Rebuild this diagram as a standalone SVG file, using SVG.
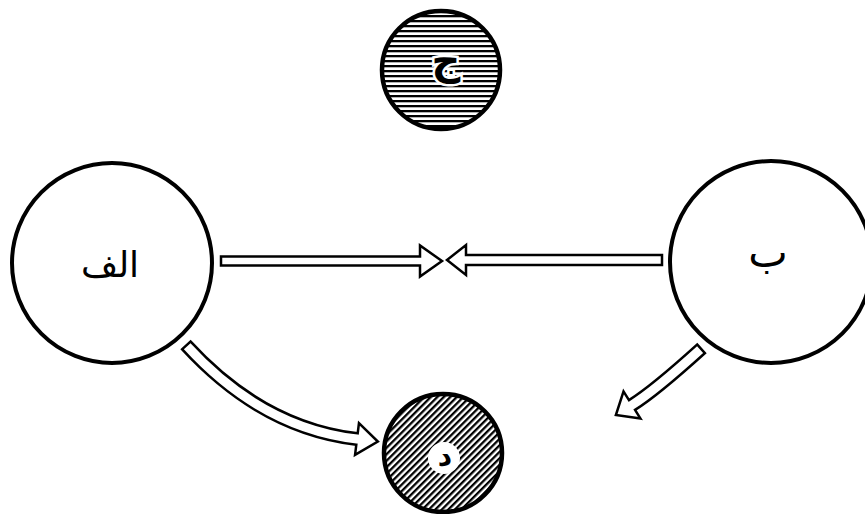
<svg xmlns="http://www.w3.org/2000/svg" width="865" height="514" viewBox="0 0 865 514">
  <style>
    .ring { fill: #fff; stroke: #000; stroke-width: 4; }
    .hring { fill: none; stroke: #000; stroke-width: 4.5; }
    .lbl { font-family: "DejaVu Sans", "Noto Sans", sans-serif; fill: #000; text-anchor: middle; }
    .halo { stroke: #fff; stroke-width: 5; paint-order: stroke; }
    .outl { fill: #fff; stroke: #000; stroke-width: 2.5; stroke-linejoin: miter; }
    .bodyb { fill: none; stroke: #000; stroke-width: 14; stroke-linecap: butt; }
    .bodyw { fill: none; stroke: #fff; stroke-width: 9; stroke-linecap: butt; }
  </style>
  <defs>
    <pattern id="hz" width="6" height="5" patternUnits="userSpaceOnUse">
      <rect x="0" y="0" width="6" height="5" fill="#fff"/>
      <rect x="0" y="0" width="6" height="2.3" fill="#000"/>
    </pattern>
    <pattern id="dg" width="4.6" height="4.6" patternUnits="userSpaceOnUse" patternTransform="rotate(-45)">
      <rect x="0" y="0" width="4.6" height="4.6" fill="#fff"/>
      <rect x="0" y="0" width="4.6" height="2.3" fill="#000"/>
    </pattern>
  </defs>
  <rect x="0" y="0" width="865" height="514" fill="#fff"/>

  <g id="node-alef">
    <circle class="ring" cx="112" cy="263" r="100"/>
    <text class="lbl" x="110" y="277" font-size="36">الف</text>
  </g>

  <g id="node-b">
    <circle class="ring" cx="771" cy="262" r="101"/>
    <text class="lbl" x="768" y="267" font-size="42">ب</text>
  </g>

  <g id="node-j">
    <circle cx="441" cy="70" r="59" fill="url(#hz)"/>
    <circle class="hring" cx="441" cy="70" r="59"/>
    <text class="lbl halo" x="446" y="74" font-size="40" font-weight="bold">ج</text>
  </g>

  <g id="node-d">
    <circle cx="443" cy="453" r="59" fill="url(#dg)"/>
    <circle class="hring" cx="443" cy="453" r="59"/>
    <circle cx="444" cy="458" r="16" fill="#fff"/>
    <text class="lbl" x="445" y="466" font-size="28" font-weight="bold">د</text>
  </g>

  <g id="connectors">
    <!-- الف to middle -->
    <polygon class="outl" points="221,256.5 420,256.5 420,245.5 442,261 420,276.5 420,265.5 221,265.5"/>
    <!-- ب to middle -->
    <polygon class="outl" points="662,255 466,255 466,245 447,260 466,275 466,265 662,265"/>
    <!-- الف to د (curved) -->
    <path class="bodyb" d="M185.5,344.5 Q262,428 357,439"/>
    <polygon class="outl" transform="translate(357,439) rotate(7)" points="0,-16 21,0 0,16"/>
    <path class="bodyw" d="M187.2,346.3 Q262,428 357,439 L360,439.4"/>
    <!-- ب outward (curved) -->
    <path class="bodyb" d="M702,348 Q654,391.4 632,405"/>
    <polygon class="outl" transform="translate(632,405) rotate(148)" points="0,-16 19,0 0,16"/>
    <path class="bodyw" d="M700.1,349.7 Q654,391.4 632,405 L629.5,406.6"/>
  </g>
</svg>
